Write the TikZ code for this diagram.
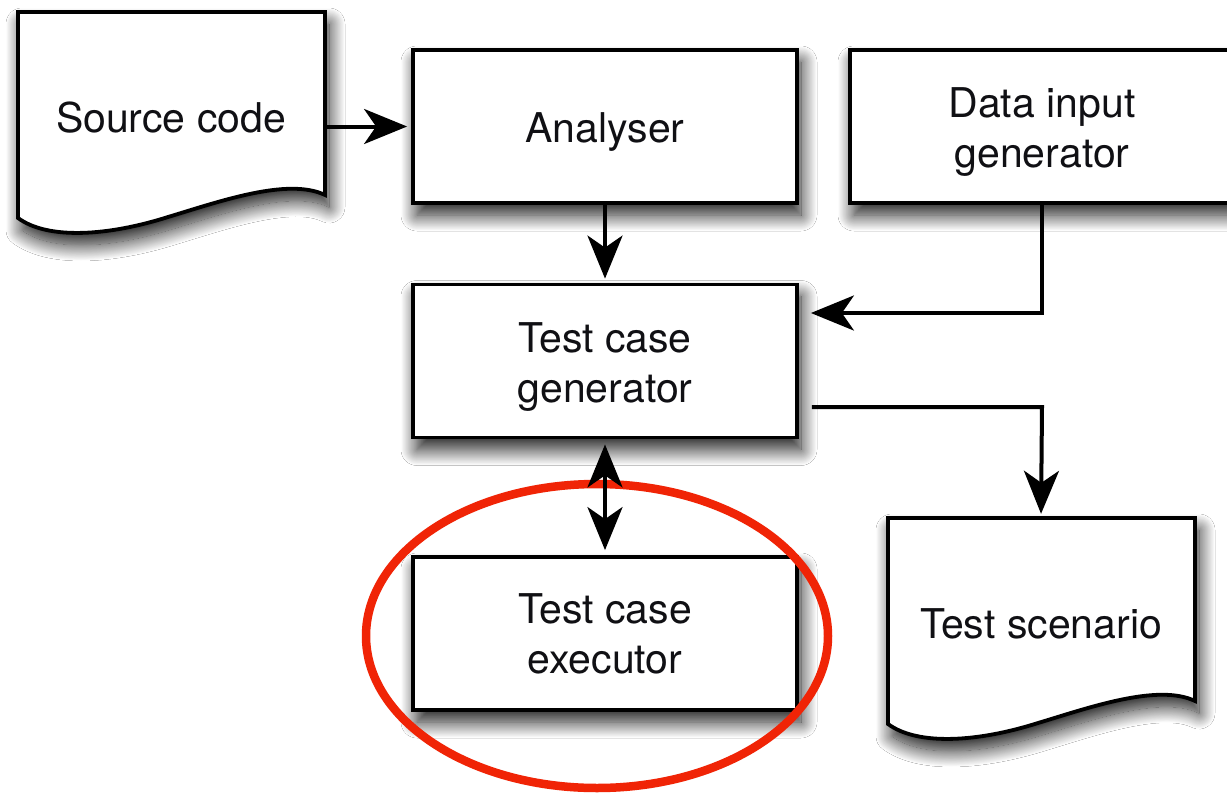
\documentclass[tikz,border=0pt]{standalone}
\usepackage{fontspec}
\setmainfont{TeX Gyre Heros}
\usetikzlibrary{arrows.meta,shadows.blur}

\definecolor{ringred}{RGB}{240,36,6}
\definecolor{inktext}{RGB}{16,16,20}

\tikzset{
  softshadow/.style={blur shadow={shadow xshift=4pt, shadow yshift=-12pt,
      shadow blur radius=16pt, shadow opacity=90, shadow blur steps=24}},
  label text/.style={font=\fontsize{41}{50}\selectfont, text=inktext, align=center},
  procbox/.style={label text, draw, line width=3.8pt, fill=white, softshadow,
      minimum width=384pt, minimum height=153pt, inner sep=0pt},
  boxtitle/.style={label={[label text, yshift=-6pt]center:{#1}}},
  docnode/.style={label text, minimum width=307pt, minimum height=212pt, inner sep=0pt},
  tip/.tip={Stealth[length=43pt, width=35pt, inset=12pt]},
  flow/.style={line width=4pt, -tip},
  twoway/.style={line width=4pt, tip-tip},
  docpaper/.pic={
    \path[draw, line width=3.8pt, fill=white, softshadow]
      (0,0) -- (307,0) -- (307,183)
      .. controls (270,165) and (200,190) .. (150,205)
      .. controls (90,224) and (30,228) .. (0,206) -- cycle;
  }
}

\begin{document}
\begin{tikzpicture}[x=1pt, y=-1pt]
  \useasboundingbox[fill=white] (0,0) rectangle (1227,793);

  % document-shaped outlines (wavy bottom edge)
  \pic at (18,12) {docpaper};
  \pic at (888,518) {docpaper};

  % text of the two documents
  \node[docnode] (src)  at (171,118)  {Source code};
  \node[docnode] (scen) at (1041,624) {Test scenario};

  % process boxes
  \node[procbox, boxtitle={Analyser}] (ana) at (605,126.5) {};
  \node[procbox, boxtitle={Data input\\generator}] (dig) at (1042,126.5) {};
  \node[procbox, boxtitle={Test case\\generator}] (tcg) at (605,361) {};
  \node[procbox] (tce) at (605,633.5) {Test case\\executor};

  % highlight ring round the executor
  \draw[ringred, line width=8.5pt] (597,636) ellipse [x radius=231, y radius=152];

  % bend points of the elbow connectors
  \coordinate (dinbend)  at (1042,313);
  \coordinate (scenbend) at (1042,407);

  % connectors
  \draw[flow, shorten >=4pt] (src.east |- ana.west) -- (ana.west);
  \draw[flow, shorten >=4pt] (ana.south) -- (tcg.north);
  \draw[flow, shorten >=12pt] (dig.south) -- (dinbend) -- (dinbend -| tcg.east);
  \draw[flow, shorten <=13pt, shorten >=4pt] (scenbend -| tcg.east) -- (scenbend) -- (scen.north);
  \draw[twoway, shorten <=5pt, shorten >=5pt] (tcg.south) -- (tce.north);
\end{tikzpicture}
\end{document}
